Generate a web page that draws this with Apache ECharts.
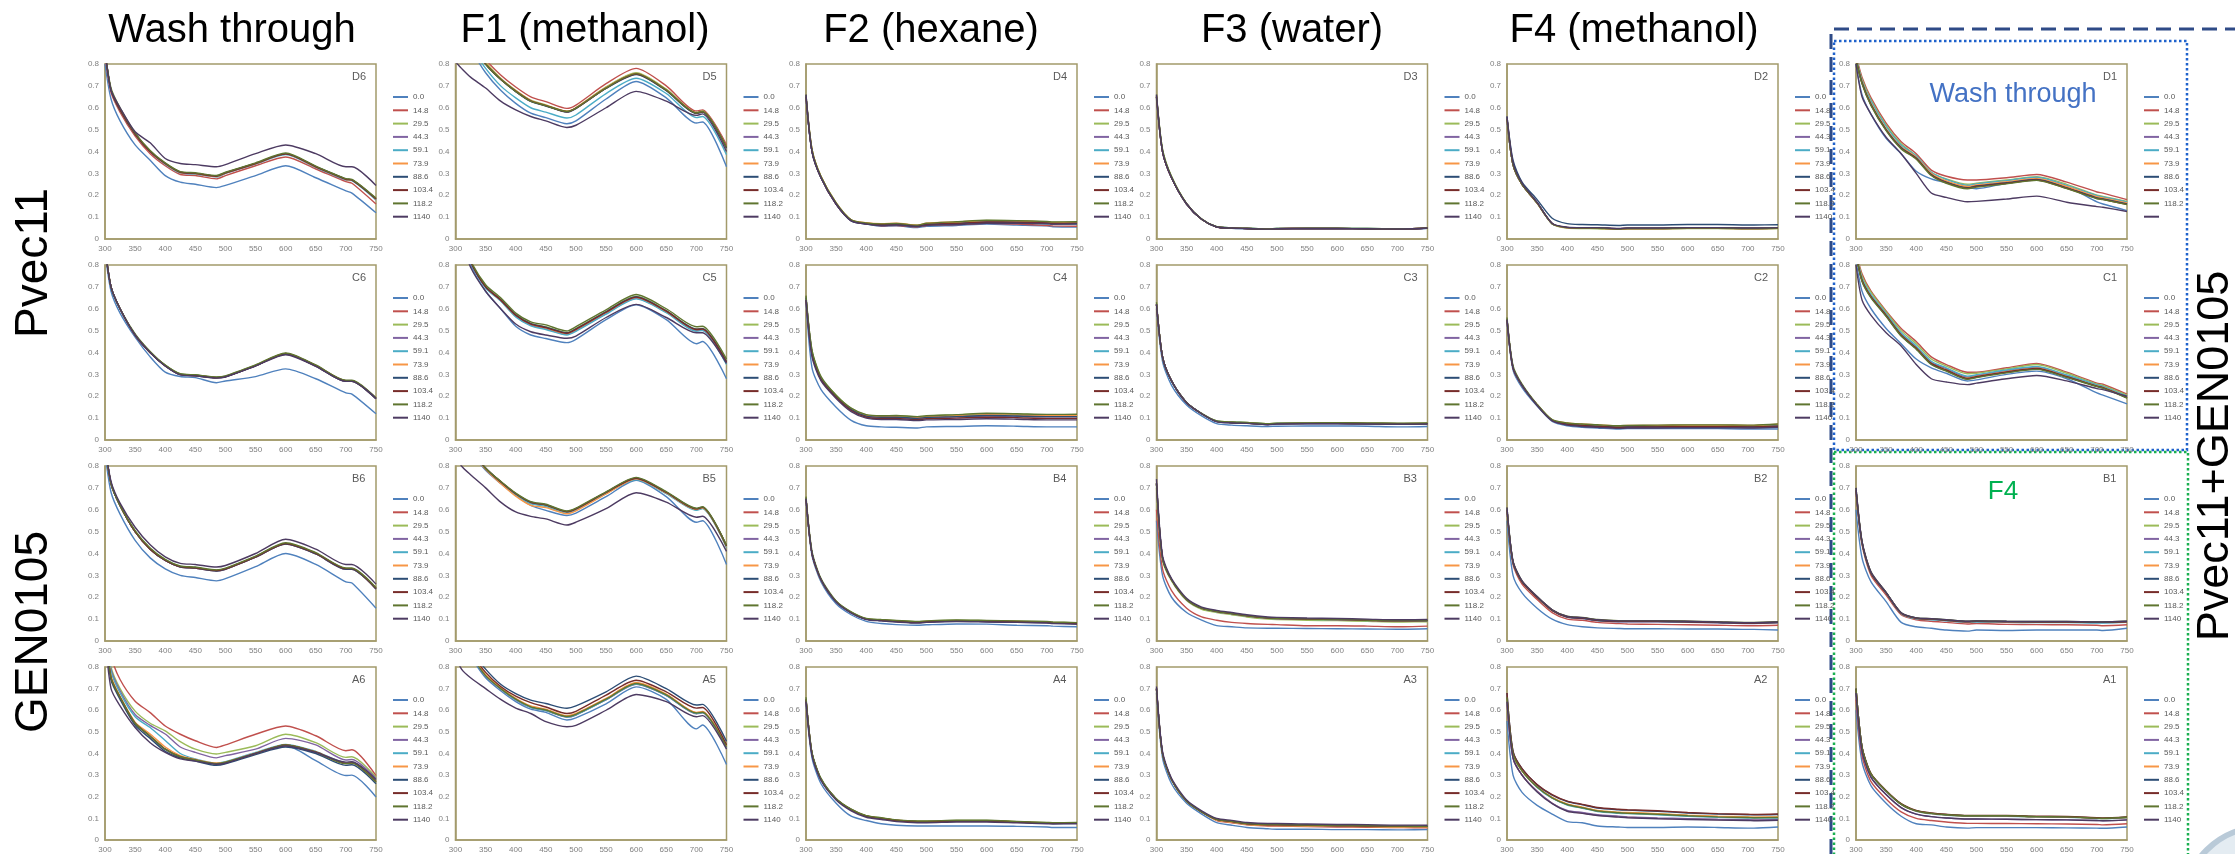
<!DOCTYPE html>
<html><head><meta charset="utf-8">
<script src="https://cdn.jsdelivr.net/npm/echarts@6/dist/echarts.min.js"></script>
<style>html,body{margin:0;padding:0;background:#fff}#c{width:2235px;height:854px}</style>
</head><body><div id="c"></div>
<script>
// ---------- data ----------
const WAVELENGTHS = [300,310,325,350,375,400,425,450,485,500,550,600,650,700,710,750];
const SERIES_NAMES = ['0.0','14.8','29.5','44.3','59.1','73.9','88.6','103.4','118.2','1140'];
const COLUMN_TITLES = ['Wash through','F1 (methanol)','F2 (hexane)','F3 (water)','F4 (methanol)'];
const ROW_GROUP_LABELS = ['Pvec11','GEN0105'];
const RIGHT_LABEL = 'Pvec11+GEN0105';
const PANEL_IDS = [['D6','D5','D4','D3','D2','D1'],['C6','C5','C4','C3','C2','C1'],['B6','B5','B4','B3','B2','B1'],['A6','A5','A4','A3','A2','A1']];

const D6 = [
[.80,.64,.54,.43,.36,.29,.26,.25,.235,.245,.29,.335,.28,.22,.21,.12],
[.84,.67,.58,.47,.39,.335,.295,.29,.275,.29,.335,.375,.32,.262,.255,.16],
[.86,.68,.59,.48,.40,.345,.305,.30,.287,.302,.345,.39,.33,.273,.27,.183],
[.86,.68,.59,.48,.40,.343,.303,.298,.285,.30,.343,.388,.328,.27,.268,.18],
[.86,.68,.59,.48,.40,.342,.302,.297,.284,.30,.342,.386,.327,.27,.267,.178],
[.86,.68,.59,.48,.40,.344,.304,.299,.286,.301,.344,.389,.329,.272,.269,.182],
[.86,.68,.59,.48,.40,.346,.306,.30,.288,.303,.346,.39,.331,.274,.27,.184],
[.86,.68,.59,.48,.40,.345,.305,.30,.287,.302,.345,.389,.33,.273,.27,.183],
[.86,.69,.60,.485,.405,.348,.308,.303,.29,.305,.348,.393,.333,.276,.273,.187],
[.86,.68,.60,.49,.44,.368,.345,.34,.33,.34,.39,.43,.39,.33,.33,.245]];
const D5 = [
[1.0,.95,.87,.76,.68,.62,.575,.555,.527,.54,.64,.72,.645,.53,.535,.33],
[1.0,.97,.91,.82,.75,.695,.65,.628,.597,.612,.71,.78,.70,.585,.59,.43],
[1.0,.96,.90,.81,.735,.68,.635,.613,.585,.60,.695,.76,.685,.578,.585,.42],
[1.0,.96,.90,.80,.73,.675,.63,.61,.582,.598,.69,.755,.68,.575,.582,.42],
[1.0,.95,.88,.78,.70,.645,.60,.58,.553,.567,.665,.735,.665,.555,.56,.385],
[1.0,.96,.90,.805,.733,.678,.633,.612,.584,.60,.692,.757,.682,.577,.583,.42],
[1.0,.96,.90,.80,.73,.674,.629,.608,.58,.596,.688,.752,.678,.574,.58,.415],
[1.0,.96,.90,.80,.73,.676,.631,.61,.582,.598,.69,.754,.68,.576,.582,.418],
[1.0,.96,.90,.80,.73,.675,.63,.61,.583,.598,.69,.756,.681,.576,.583,.42],
[.81,.78,.74,.69,.63,.59,.56,.54,.51,.52,.60,.675,.63,.565,.572,.40]];
const D4 = [
[.64,.40,.28,.16,.083,.068,.058,.06,.052,.058,.062,.068,.064,.06,.056,.055],
[.65,.40,.28,.16,.084,.069,.06,.062,.055,.062,.066,.072,.068,.062,.06,.058],
[.65,.41,.285,.165,.087,.072,.068,.07,.062,.07,.076,.085,.083,.078,.076,.078],
[.65,.40,.28,.16,.085,.07,.064,.066,.058,.066,.07,.077,.075,.071,.069,.07],
[.65,.40,.28,.162,.085,.07,.063,.065,.057,.065,.069,.076,.074,.07,.068,.068],
[.65,.41,.285,.165,.088,.074,.07,.072,.063,.072,.078,.084,.082,.078,.076,.076],
[.65,.40,.28,.16,.084,.069,.065,.066,.058,.066,.07,.077,.076,.072,.07,.071],
[.65,.40,.28,.16,.085,.07,.065,.067,.059,.067,.071,.078,.077,.073,.071,.072],
[.66,.41,.285,.165,.088,.073,.069,.071,.063,.072,.079,.086,.084,.08,.078,.079],
[.66,.40,.28,.16,.083,.068,.062,.064,.057,.063,.066,.072,.072,.07,.068,.07]];
const D3 = [
[.64,.40,.28,.16,.09,.055,.05,.047,.044,.046,.047,.047,.046,.045,.045,.049],
[.65,.40,.28,.16,.09,.055,.05,.048,.045,.047,.048,.048,.047,.046,.046,.05],
[.65,.41,.285,.162,.091,.056,.051,.049,.046,.048,.049,.049,.048,.047,.047,.051],
[.65,.40,.28,.16,.09,.055,.05,.048,.045,.047,.048,.048,.047,.046,.046,.05],
[.65,.40,.28,.16,.09,.056,.051,.049,.046,.048,.049,.049,.048,.047,.047,.051],
[.65,.40,.28,.16,.09,.055,.05,.048,.045,.047,.048,.048,.047,.046,.046,.05],
[.65,.40,.28,.16,.09,.054,.049,.047,.044,.046,.047,.047,.046,.045,.045,.049],
[.65,.40,.28,.16,.09,.055,.05,.048,.045,.047,.048,.048,.047,.046,.046,.05],
[.66,.41,.285,.162,.091,.056,.051,.049,.046,.048,.049,.049,.048,.047,.047,.051],
[.66,.40,.28,.16,.09,.055,.05,.048,.045,.047,.048,.048,.047,.046,.046,.05]];
const D2 = [
[.54,.34,.25,.165,.07,.051,.049,.049,.045,.047,.047,.049,.049,.047,.047,.049],
[.55,.34,.25,.165,.07,.052,.05,.05,.046,.048,.048,.05,.05,.048,.048,.05],
[.55,.34,.25,.163,.069,.05,.048,.047,.044,.046,.046,.048,.048,.046,.046,.048],
[.55,.34,.25,.165,.07,.052,.05,.05,.046,.048,.048,.05,.05,.048,.048,.05],
[.55,.34,.25,.165,.07,.052,.05,.05,.046,.048,.048,.05,.05,.048,.048,.05],
[.55,.34,.25,.164,.07,.051,.049,.049,.045,.047,.047,.049,.049,.047,.047,.049],
[.56,.36,.26,.18,.095,.07,.066,.065,.062,.064,.064,.066,.066,.064,.064,.065],
[.55,.34,.25,.165,.071,.053,.051,.051,.047,.049,.049,.051,.051,.049,.049,.051],
[.55,.34,.25,.165,.07,.052,.05,.05,.046,.048,.048,.05,.05,.048,.048,.05],
[.56,.35,.255,.168,.072,.054,.052,.052,.048,.05,.05,.052,.052,.05,.05,.052]];
const D1 = [
[.80,.66,.57,.46,.39,.31,.275,.257,.235,.23,.255,.27,.24,.17,.16,.13],
[.84,.74,.645,.53,.445,.39,.315,.287,.27,.27,.28,.295,.26,.215,.21,.18],
[.83,.73,.635,.52,.435,.38,.305,.275,.25,.255,.27,.285,.25,.20,.195,.172],
[.82,.715,.615,.50,.42,.372,.297,.262,.236,.243,.258,.274,.236,.19,.185,.162],
[.83,.725,.63,.515,.43,.38,.305,.272,.245,.252,.267,.282,.245,.198,.192,.17],
[.82,.72,.62,.505,.422,.375,.30,.265,.24,.247,.262,.277,.24,.193,.188,.165],
[.82,.715,.615,.50,.418,.37,.295,.26,.234,.242,.257,.272,.234,.188,.183,.16],
[.82,.712,.612,.498,.415,.368,.293,.258,.232,.24,.255,.27,.232,.186,.181,.158],
[.82,.71,.61,.495,.412,.365,.29,.255,.23,.237,.252,.268,.23,.184,.18,.157],
[.80,.65,.57,.465,.39,.30,.21,.19,.17,.172,.183,.196,.168,.148,.145,.126]];

const C6 = [
[.86,.68,.58,.47,.38,.31,.29,.285,.262,.27,.29,.325,.28,.215,.21,.12],
[.88,.70,.60,.48,.40,.34,.30,.295,.285,.29,.34,.393,.338,.268,.268,.188],
[.88,.70,.60,.48,.40,.342,.302,.297,.287,.292,.342,.396,.34,.27,.27,.19],
[.88,.70,.60,.48,.40,.34,.30,.295,.285,.29,.34,.394,.339,.269,.269,.189],
[.88,.70,.60,.48,.40,.341,.301,.296,.286,.291,.341,.395,.34,.27,.27,.19],
[.88,.70,.60,.48,.40,.34,.30,.295,.285,.29,.34,.395,.34,.27,.27,.19],
[.88,.70,.60,.48,.40,.339,.299,.294,.284,.289,.339,.393,.338,.268,.268,.188],
[.88,.70,.60,.48,.40,.34,.30,.295,.285,.29,.34,.396,.341,.271,.271,.191],
[.88,.70,.60,.485,.405,.343,.303,.298,.288,.293,.343,.398,.343,.273,.273,.193],
[.88,.70,.60,.48,.40,.338,.298,.293,.283,.288,.338,.39,.337,.268,.268,.19]];
const C5 = [
[1.0,.92,.80,.68,.60,.52,.48,.464,.445,.46,.55,.618,.55,.44,.45,.28],
[1.0,.93,.815,.70,.64,.57,.53,.515,.488,.507,.585,.655,.59,.505,.507,.355],
[1.0,.93,.815,.705,.643,.573,.533,.518,.49,.51,.587,.657,.592,.508,.51,.36],
[1.0,.93,.81,.70,.638,.566,.525,.508,.483,.50,.578,.648,.585,.50,.502,.35],
[1.0,.925,.81,.695,.635,.563,.522,.505,.48,.497,.575,.645,.582,.497,.50,.345],
[1.0,.93,.815,.70,.64,.57,.53,.513,.487,.505,.583,.652,.588,.505,.507,.355],
[1.0,.93,.815,.70,.642,.572,.532,.516,.49,.508,.586,.655,.59,.507,.509,.358],
[1.0,.93,.815,.70,.64,.57,.53,.514,.488,.506,.584,.653,.589,.505,.507,.356],
[1.0,.93,.82,.71,.65,.58,.54,.526,.498,.518,.595,.665,.60,.518,.52,.37],
[1.0,.91,.79,.68,.60,.53,.495,.48,.465,.475,.56,.62,.56,.49,.49,.35]];
const C4 = [
[.63,.33,.23,.15,.09,.065,.06,.058,.055,.06,.062,.065,.063,.06,.06,.06],
[.65,.40,.28,.20,.14,.11,.105,.105,.10,.104,.108,.113,.111,.108,.108,.108],
[.65,.41,.285,.205,.145,.115,.11,.11,.106,.11,.115,.12,.118,.115,.115,.115],
[.65,.40,.28,.20,.14,.108,.103,.103,.098,.102,.106,.11,.108,.106,.106,.106],
[.65,.40,.28,.20,.14,.11,.106,.106,.101,.105,.11,.115,.113,.11,.11,.11],
[.65,.40,.28,.20,.142,.112,.107,.107,.102,.106,.111,.116,.114,.111,.111,.112],
[.65,.40,.28,.20,.14,.109,.104,.104,.099,.103,.107,.112,.11,.107,.107,.107],
[.64,.39,.275,.195,.135,.104,.098,.098,.093,.097,.10,.104,.102,.099,.099,.099],
[.66,.41,.29,.205,.146,.116,.111,.112,.107,.111,.116,.122,.12,.117,.117,.118],
[.64,.38,.27,.19,.13,.10,.094,.094,.089,.092,.094,.097,.095,.092,.092,.092]];
const C3 = [
[.60,.36,.25,.16,.11,.075,.068,.065,.062,.063,.064,.064,.063,.06,.06,.062],
[.62,.38,.27,.17,.12,.085,.08,.078,.072,.075,.076,.076,.075,.074,.074,.075],
[.62,.38,.27,.17,.12,.087,.082,.08,.074,.077,.078,.078,.077,.076,.076,.077],
[.62,.38,.27,.17,.12,.084,.079,.077,.071,.074,.075,.075,.074,.073,.073,.074],
[.62,.38,.27,.17,.12,.086,.081,.079,.073,.076,.077,.077,.076,.075,.075,.076],
[.62,.38,.27,.17,.12,.085,.08,.078,.072,.075,.076,.077,.076,.075,.075,.076],
[.62,.38,.27,.17,.12,.084,.079,.077,.071,.074,.075,.075,.074,.073,.073,.074],
[.62,.38,.27,.17,.12,.085,.08,.078,.072,.075,.076,.076,.075,.074,.074,.075],
[.63,.38,.27,.172,.122,.087,.082,.08,.074,.077,.078,.079,.078,.077,.077,.078],
[.62,.38,.27,.17,.12,.084,.078,.076,.07,.073,.074,.074,.073,.072,.072,.073]];
const C2 = [
[.54,.32,.24,.155,.085,.065,.058,.055,.05,.052,.052,.053,.052,.05,.05,.05],
[.55,.33,.25,.16,.09,.072,.066,.062,.057,.059,.059,.06,.06,.059,.059,.062],
[.55,.33,.25,.16,.09,.076,.071,.067,.062,.064,.065,.066,.066,.065,.065,.069],
[.55,.33,.25,.16,.088,.07,.064,.06,.055,.057,.057,.058,.058,.057,.057,.06],
[.55,.33,.25,.16,.09,.074,.068,.064,.059,.061,.061,.062,.062,.061,.061,.064],
[.55,.33,.25,.162,.092,.078,.073,.069,.064,.066,.067,.068,.068,.067,.067,.072],
[.55,.33,.25,.16,.09,.073,.067,.063,.058,.06,.06,.061,.061,.06,.06,.063],
[.55,.33,.25,.16,.09,.072,.066,.062,.057,.059,.06,.061,.061,.06,.06,.063],
[.56,.34,.255,.163,.093,.078,.073,.07,.065,.067,.068,.069,.069,.068,.068,.073],
[.55,.33,.25,.158,.088,.068,.062,.058,.053,.055,.055,.056,.056,.055,.055,.058]];
const C1 = [
[.82,.68,.60,.51,.44,.37,.33,.305,.27,.275,.30,.315,.28,.215,.205,.165],
[.86,.76,.68,.59,.51,.45,.38,.345,.31,.31,.33,.35,.31,.26,.255,.21],
[.86,.75,.675,.585,.50,.44,.37,.338,.303,.305,.325,.345,.305,.255,.25,.205],
[.85,.735,.66,.575,.485,.425,.355,.326,.288,.295,.317,.333,.295,.25,.243,.198],
[.85,.74,.665,.578,.49,.43,.36,.33,.292,.298,.32,.336,.297,.252,.245,.2],
[.85,.73,.655,.57,.48,.42,.35,.32,.282,.29,.312,.328,.29,.247,.24,.195],
[.85,.728,.652,.567,.477,.417,.347,.317,.279,.287,.309,.325,.288,.245,.238,.193],
[.85,.73,.655,.57,.48,.42,.35,.32,.281,.289,.311,.327,.289,.246,.239,.194],
[.85,.725,.65,.565,.475,.415,.345,.315,.277,.285,.307,.323,.286,.244,.237,.192],
[.80,.64,.57,.49,.43,.345,.28,.265,.253,.26,.28,.295,.27,.235,.23,.20]];

const B6 = [
[.86,.68,.58,.46,.38,.33,.30,.29,.275,.285,.34,.40,.35,.27,.265,.15],
[.90,.72,.62,.50,.42,.368,.338,.333,.32,.328,.383,.443,.398,.328,.328,.238],
[.90,.72,.62,.50,.42,.37,.34,.335,.322,.33,.385,.445,.40,.33,.33,.24],
[.90,.72,.62,.50,.42,.369,.339,.334,.321,.329,.384,.444,.399,.329,.329,.239],
[.90,.72,.62,.50,.42,.371,.341,.336,.323,.331,.386,.446,.401,.331,.331,.241],
[.90,.72,.62,.50,.42,.37,.34,.335,.322,.33,.385,.445,.40,.33,.33,.24],
[.90,.72,.62,.50,.42,.368,.338,.333,.32,.328,.383,.443,.398,.328,.328,.238],
[.90,.72,.62,.50,.42,.37,.34,.335,.322,.33,.385,.446,.401,.331,.331,.241],
[.90,.72,.62,.505,.425,.373,.343,.338,.325,.333,.388,.449,.404,.334,.334,.244],
[.90,.73,.63,.52,.44,.385,.355,.35,.338,.345,.40,.465,.42,.35,.35,.26]];
const B5 = [
[1.0,.94,.87,.78,.72,.665,.62,.597,.574,.585,.66,.735,.66,.543,.55,.35],
[1.0,.95,.88,.79,.728,.672,.632,.62,.589,.602,.677,.742,.677,.602,.609,.432],
[1.0,.95,.88,.79,.727,.67,.63,.617,.586,.60,.675,.74,.675,.60,.607,.43],
[1.0,.95,.88,.79,.728,.673,.634,.622,.591,.604,.679,.744,.679,.604,.611,.434],
[1.0,.95,.88,.79,.726,.668,.628,.615,.585,.598,.674,.738,.674,.598,.605,.428],
[1.0,.95,.875,.785,.72,.662,.62,.61,.582,.595,.672,.742,.677,.602,.609,.432],
[1.0,.95,.88,.79,.728,.674,.635,.623,.592,.605,.68,.745,.68,.605,.612,.435],
[1.0,.95,.88,.79,.728,.673,.634,.622,.591,.604,.679,.744,.679,.604,.611,.434],
[1.0,.95,.88,.79,.73,.676,.637,.625,.594,.607,.682,.748,.683,.607,.614,.437],
[.85,.80,.76,.70,.635,.59,.57,.558,.53,.543,.605,.678,.635,.566,.57,.41]];
const B4 = [
[.64,.39,.27,.17,.12,.09,.08,.075,.072,.074,.078,.077,.072,.07,.068,.065],
[.65,.40,.28,.18,.13,.10,.095,.09,.085,.088,.092,.09,.088,.085,.083,.08],
[.65,.40,.28,.182,.132,.102,.097,.093,.088,.091,.095,.093,.091,.088,.086,.083],
[.65,.40,.28,.18,.13,.10,.094,.089,.084,.087,.091,.089,.087,.084,.082,.079],
[.65,.40,.28,.18,.13,.10,.095,.09,.085,.088,.092,.09,.088,.085,.083,.08],
[.65,.40,.28,.181,.131,.101,.096,.091,.086,.089,.093,.091,.089,.086,.084,.081],
[.65,.40,.28,.18,.13,.10,.094,.089,.084,.087,.091,.089,.087,.084,.082,.079],
[.65,.40,.28,.18,.13,.10,.095,.09,.085,.088,.092,.09,.088,.085,.083,.08],
[.66,.41,.285,.183,.133,.103,.098,.094,.089,.092,.096,.094,.092,.089,.087,.084],
[.65,.40,.28,.178,.128,.098,.092,.087,.082,.085,.089,.087,.085,.082,.08,.077]];
const B3 = [
[.55,.30,.20,.13,.095,.07,.065,.06,.058,.058,.057,.056,.055,.054,.054,.056],
[.60,.33,.23,.15,.11,.095,.085,.08,.076,.075,.07,.07,.068,.065,.065,.068],
[.70,.37,.275,.185,.145,.13,.12,.11,.10,.098,.095,.093,.09,.087,.087,.088],
[.72,.38,.28,.19,.15,.135,.125,.115,.105,.103,.10,.098,.095,.092,.092,.093],
[.72,.38,.28,.19,.15,.134,.124,.114,.104,.102,.099,.097,.094,.091,.091,.092],
[.72,.38,.28,.19,.15,.135,.125,.115,.105,.103,.10,.098,.095,.092,.092,.093],
[.72,.38,.28,.19,.15,.136,.126,.116,.106,.104,.101,.099,.096,.093,.093,.094],
[.72,.38,.28,.19,.15,.135,.125,.115,.105,.103,.10,.098,.095,.092,.092,.093],
[.72,.38,.28,.19,.15,.136,.126,.116,.106,.104,.101,.099,.096,.093,.093,.094],
[.74,.39,.285,.195,.155,.14,.13,.12,.11,.108,.105,.103,.10,.097,.097,.098]];
const B2 = [
[.55,.30,.22,.15,.10,.075,.065,.06,.057,.056,.056,.055,.055,.053,.053,.05],
[.60,.35,.26,.19,.13,.10,.095,.085,.08,.078,.076,.074,.072,.07,.07,.072],
[.60,.36,.27,.20,.14,.11,.105,.095,.09,.09,.09,.088,.085,.082,.082,.085],
[.60,.36,.27,.20,.14,.108,.103,.093,.088,.088,.088,.086,.083,.08,.08,.083],
[.60,.36,.27,.20,.14,.11,.105,.095,.09,.09,.09,.088,.085,.082,.082,.085],
[.60,.36,.27,.20,.141,.111,.106,.096,.091,.091,.091,.089,.086,.083,.083,.086],
[.60,.36,.27,.20,.14,.109,.104,.094,.089,.089,.089,.087,.084,.081,.081,.084],
[.60,.36,.27,.20,.14,.11,.105,.095,.09,.09,.09,.088,.085,.082,.082,.085],
[.61,.365,.275,.203,.143,.113,.108,.098,.093,.093,.093,.091,.088,.085,.085,.088],
[.61,.365,.275,.203,.143,.112,.107,.097,.092,.092,.092,.09,.087,.084,.084,.087]];
const B1 = [
[.60,.38,.27,.18,.085,.065,.058,.05,.045,.05,.048,.05,.05,.05,.048,.058],
[.68,.44,.30,.21,.12,.097,.09,.085,.078,.08,.076,.075,.074,.072,.07,.074],
[.69,.45,.31,.22,.127,.104,.10,.095,.088,.09,.088,.087,.087,.085,.085,.088],
[.69,.45,.31,.22,.126,.103,.099,.094,.087,.089,.087,.086,.086,.084,.084,.087],
[.69,.45,.31,.22,.125,.101,.097,.092,.085,.087,.085,.084,.084,.082,.082,.085],
[.69,.45,.31,.22,.127,.104,.10,.095,.088,.09,.088,.087,.087,.085,.085,.088],
[.69,.45,.31,.22,.128,.105,.101,.096,.089,.091,.089,.088,.088,.086,.086,.089],
[.69,.45,.31,.22,.127,.104,.10,.095,.088,.09,.088,.087,.087,.085,.085,.088],
[.70,.455,.315,.222,.129,.106,.102,.097,.09,.092,.09,.089,.089,.087,.087,.09],
[.70,.455,.315,.222,.129,.106,.102,.097,.09,.092,.09,.089,.089,.087,.087,.09]];

const A6 = [
[1.0,.75,.66,.54,.48,.42,.385,.37,.352,.358,.40,.437,.367,.298,.30,.199],
[1.0,.85,.742,.642,.589,.527,.489,.459,.428,.44,.489,.527,.482,.413,.417,.298],
[1.0,.80,.70,.596,.54,.505,.455,.42,.398,.405,.436,.489,.45,.382,.385,.29],
[1.0,.79,.69,.58,.53,.49,.43,.405,.38,.39,.42,.47,.44,.37,.372,.285],
[1.0,.78,.68,.57,.52,.46,.40,.375,.355,.362,.405,.442,.41,.357,.36,.275],
[1.0,.76,.665,.545,.49,.43,.39,.372,.356,.36,.402,.44,.408,.355,.358,.272],
[1.0,.74,.65,.53,.47,.41,.38,.365,.345,.352,.395,.43,.40,.345,.348,.26],
[1.0,.75,.66,.54,.48,.42,.385,.37,.352,.358,.40,.44,.407,.354,.357,.27],
[1.0,.75,.66,.54,.48,.42,.385,.37,.353,.36,.40,.44,.406,.353,.356,.268],
[.95,.70,.62,.52,.45,.405,.375,.365,.35,.355,.40,.435,.405,.36,.362,.28]];
const A5 = [
[1.0,.93,.85,.75,.69,.64,.605,.59,.555,.565,.63,.708,.65,.514,.532,.349],
[1.0,.94,.86,.76,.70,.652,.617,.602,.572,.582,.652,.725,.672,.588,.592,.432],
[1.0,.94,.86,.76,.70,.65,.615,.60,.57,.58,.65,.723,.67,.586,.59,.43],
[1.0,.94,.86,.76,.70,.648,.613,.598,.568,.578,.648,.72,.668,.584,.588,.428],
[1.0,.94,.86,.76,.70,.649,.614,.599,.569,.579,.649,.721,.669,.585,.589,.429],
[1.0,.945,.865,.765,.705,.655,.62,.605,.575,.585,.655,.728,.675,.59,.594,.434],
[1.0,.96,.88,.79,.72,.677,.647,.631,.609,.62,.685,.758,.70,.624,.627,.456],
[1.0,.95,.87,.775,.71,.665,.635,.615,.585,.595,.67,.739,.685,.61,.613,.44],
[1.0,.94,.86,.76,.70,.651,.616,.601,.571,.581,.651,.724,.671,.587,.591,.431],
[.85,.79,.75,.70,.65,.61,.585,.547,.524,.53,.60,.673,.64,.57,.575,.42]];
const A4 = [
[.63,.38,.26,.17,.11,.09,.075,.068,.065,.065,.065,.065,.063,.06,.058,.058],
[.65,.40,.28,.19,.14,.11,.10,.09,.085,.085,.088,.088,.083,.078,.077,.078],
[.65,.40,.28,.19,.142,.112,.102,.092,.087,.087,.09,.09,.085,.08,.079,.08],
[.65,.40,.28,.19,.14,.11,.10,.09,.085,.085,.088,.088,.083,.078,.077,.078],
[.65,.40,.28,.19,.14,.109,.099,.089,.084,.084,.087,.087,.082,.077,.076,.077],
[.65,.40,.28,.19,.141,.111,.101,.091,.086,.086,.089,.089,.084,.079,.078,.079],
[.65,.40,.28,.19,.14,.11,.10,.09,.085,.085,.088,.088,.083,.078,.077,.078],
[.65,.40,.28,.19,.14,.11,.10,.09,.085,.085,.088,.088,.083,.078,.077,.078],
[.66,.405,.285,.192,.143,.113,.103,.093,.088,.088,.091,.091,.086,.081,.08,.081],
[.64,.39,.275,.185,.135,.105,.095,.085,.08,.08,.083,.083,.079,.075,.074,.075]];
const A3 = [
[.68,.38,.26,.17,.12,.08,.068,.058,.052,.05,.05,.048,.048,.047,.047,.048],
[.70,.40,.28,.18,.13,.09,.08,.07,.065,.064,.062,.06,.059,.057,.057,.056],
[.70,.40,.28,.18,.13,.093,.083,.073,.068,.068,.066,.064,.063,.061,.061,.06],
[.70,.40,.28,.18,.13,.095,.085,.075,.07,.07,.068,.066,.065,.063,.063,.062],
[.70,.40,.28,.18,.13,.094,.084,.074,.069,.069,.067,.065,.064,.062,.062,.061],
[.70,.40,.28,.18,.13,.092,.082,.072,.067,.067,.065,.063,.062,.06,.06,.059],
[.70,.40,.28,.18,.13,.096,.086,.076,.071,.071,.069,.067,.066,.064,.064,.063],
[.70,.40,.28,.18,.13,.095,.085,.075,.07,.07,.068,.066,.065,.063,.063,.062],
[.70,.40,.28,.18,.13,.096,.086,.076,.071,.071,.069,.067,.066,.064,.064,.063],
[.71,.41,.285,.185,.135,.10,.091,.081,.076,.076,.074,.072,.071,.069,.069,.068]];
const A2 = [
[.55,.30,.22,.16,.12,.085,.08,.065,.06,.058,.058,.06,.058,.055,.055,.06],
[.64,.38,.30,.225,.17,.135,.125,.115,.108,.105,.10,.097,.094,.092,.091,.093],
[.66,.40,.32,.245,.195,.165,.15,.135,.127,.125,.12,.113,.108,.105,.104,.105],
[.64,.38,.30,.225,.17,.137,.127,.117,.11,.107,.102,.099,.096,.094,.093,.095],
[.66,.40,.32,.243,.193,.162,.147,.132,.124,.122,.117,.11,.105,.102,.101,.102],
[.66,.40,.32,.247,.197,.167,.152,.137,.129,.127,.122,.115,.11,.107,.106,.107],
[.68,.41,.33,.255,.208,.178,.163,.148,.14,.138,.133,.125,.12,.117,.116,.118],
[.68,.41,.33,.257,.21,.18,.165,.15,.142,.14,.135,.127,.122,.119,.118,.12],
[.66,.40,.32,.245,.195,.164,.149,.134,.126,.124,.119,.112,.107,.104,.103,.104],
[.64,.38,.30,.222,.168,.133,.123,.113,.106,.103,.098,.095,.092,.09,.089,.091]];
const A1 = [
[.60,.36,.25,.17,.11,.075,.07,.06,.055,.057,.057,.057,.056,.055,.054,.06],
[.65,.39,.27,.19,.13,.10,.09,.083,.077,.077,.076,.075,.074,.072,.07,.075],
[.70,.43,.305,.227,.166,.135,.123,.117,.112,.112,.112,.108,.107,.101,.10,.105],
[.68,.41,.29,.21,.15,.12,.108,.102,.097,.097,.096,.094,.093,.09,.089,.093],
[.70,.43,.303,.225,.164,.133,.121,.115,.11,.11,.11,.106,.105,.099,.098,.103],
[.70,.43,.304,.226,.165,.134,.122,.116,.111,.111,.111,.107,.106,.10,.099,.104],
[.70,.43,.305,.227,.166,.135,.123,.117,.112,.112,.112,.108,.107,.101,.10,.105],
[.70,.432,.307,.229,.168,.137,.125,.119,.114,.114,.114,.11,.109,.103,.102,.107],
[.70,.43,.305,.227,.166,.135,.123,.117,.112,.112,.112,.108,.107,.101,.10,.105],
[.68,.41,.29,.21,.15,.12,.108,.102,.097,.097,.096,.094,.093,.09,.089,.093]];

const PANELS = [[D6,D5,D4,D3,D2,D1],[C6,C5,C4,C3,C2,C1],[B6,B5,B4,B3,B2,B1],[A6,A5,A4,A3,A2,A1]];

// ---------- styling / layout ----------
const COLORS = ['#4F81BD','#C0504D','#9BBB59','#8064A2','#4BACC6','#F79646','#2C4D75','#772C2A','#5F7530','#4D3B62'];
const COL_LEFT = [105,455.5,806,1156.5,1507,1856];
const ROW_TOP = [64,265,466,667];
const PW = 271, PH = 175;
const FRAME = '#A39A6B';
const FONT = '"Liberation Sans", Arial, sans-serif';

const grid=[], xAxis=[], yAxis=[], series=[], legend=[], title=[];
PANELS.forEach((row,r)=>row.forEach((panel,c)=>{
  const i = r*6+c, left = COL_LEFT[c], top = ROW_TOP[r], id = PANEL_IDS[r][c];
  grid.push({left, top, width:PW, height:PH, show:true, borderColor:FRAME, borderWidth:1.5, backgroundColor:'#fff'});
  xAxis.push({type:'value', gridIndex:i, min:300, max:750, interval:50,
    axisLine:{show:true, onZero:false, lineStyle:{color:FRAME, width:1.5}}, axisTick:{show:false}, splitLine:{show:false},
    axisLabel:{fontSize:8, color:'#808080', margin:6, fontFamily:FONT, showMinLabel:true, showMaxLabel:true}});
  yAxis.push({type:'value', gridIndex:i, min:0, max:0.8, interval:0.1,
    axisLine:{show:true, lineStyle:{color:FRAME, width:1.5}}, axisTick:{show:false}, splitLine:{show:false},
    axisLabel:{fontSize:8, color:'#808080', margin:6, fontFamily:FONT, formatter:v=> v===0?'0':v.toFixed(1)}});
  const names = SERIES_NAMES.map((n,k)=> (id==='D1' && k===9) ? ' ' : n);
  panel.forEach((vals,k)=>series.push({type:'line', name:names[k], xAxisIndex:i, yAxisIndex:i,
    data: WAVELENGTHS.map((x,j)=>[x, vals[j]]), showSymbol:false, symbol:'none', smooth:0.25, clip:true, silent:true,
    lineStyle:{width:1.4, color:COLORS[k]}, itemStyle:{color:COLORS[k]}, emphasis:{disabled:true}}));
  legend.push({orient:'vertical', left:left+288, top:top+28.5, data:names, icon:'rect', itemWidth:15, itemHeight:2,
    itemGap:4.3, padding:0, selectedMode:false, textStyle:{fontSize:8, color:'#595959', lineHeight:9, fontFamily:FONT}});
  title.push({text:id, left:left+PW-24, top:top+7, padding:0, textStyle:{fontSize:11, fontWeight:'normal', color:'#595959', fontFamily:FONT}});
}));

const TITLE_X = [232,585,931,1292,1634];
const graphic = [];
COLUMN_TITLES.forEach((t,k)=>graphic.push({type:'text', x:TITLE_X[k], y:31, style:{text:t, font:'40px '+FONT, fill:'#000', textAlign:'center', textVerticalAlign:'middle'}}));
graphic.push({type:'text', x:34, y:263, rotation:Math.PI/2, style:{text:ROW_GROUP_LABELS[0], font:'46px '+FONT, fill:'#000', textAlign:'center', textVerticalAlign:'middle'}});
graphic.push({type:'text', x:34, y:632, rotation:Math.PI/2, style:{text:ROW_GROUP_LABELS[1], font:'46px '+FONT, fill:'#000', textAlign:'center', textVerticalAlign:'middle'}});
graphic.push({type:'text', x:2216, y:456, rotation:Math.PI/2, style:{text:RIGHT_LABEL, font:'45px '+FONT, fill:'#000', textAlign:'center', textVerticalAlign:'middle'}});
// faint seal in the bottom-right corner
graphic.push({type:'circle', shape:{cx:2262, cy:905, r:78}, style:{fill:'#e4ecf2', stroke:'#b9cad8', lineWidth:6}, z:-1});
// highlight boxes
graphic.push({type:'polyline', shape:{points:[[2240,29],[1831,29],[1831,860]]}, style:{stroke:'#2F4B87', lineWidth:3, lineDash:[15,8], fill:null}});
graphic.push({type:'rect', shape:{x:1834, y:41, width:353, height:409}, style:{stroke:'#1F62CC', lineWidth:2.5, lineDash:[2.5,2.5], fill:null}});
graphic.push({type:'rect', shape:{x:1834, y:452, width:354, height:420}, style:{stroke:'#19B050', lineWidth:2.5, lineDash:[2.5,2.5], fill:null}});
graphic.push({type:'text', x:2013, y:95, style:{text:'Wash through', font:'27px '+FONT, fill:'#4472C4', textAlign:'center', textVerticalAlign:'middle'}});
graphic.push({type:'text', x:2003, y:492, style:{text:'F4', font:'26px '+FONT, fill:'#00B050', textAlign:'center', textVerticalAlign:'middle'}});

const chart = echarts.init(document.getElementById('c'), null, {renderer:'canvas', width:2235, height:854});
chart.setOption({animation:false, backgroundColor:'#fff', grid, xAxis, yAxis, series, legend, title, graphic});
</script></body></html>
